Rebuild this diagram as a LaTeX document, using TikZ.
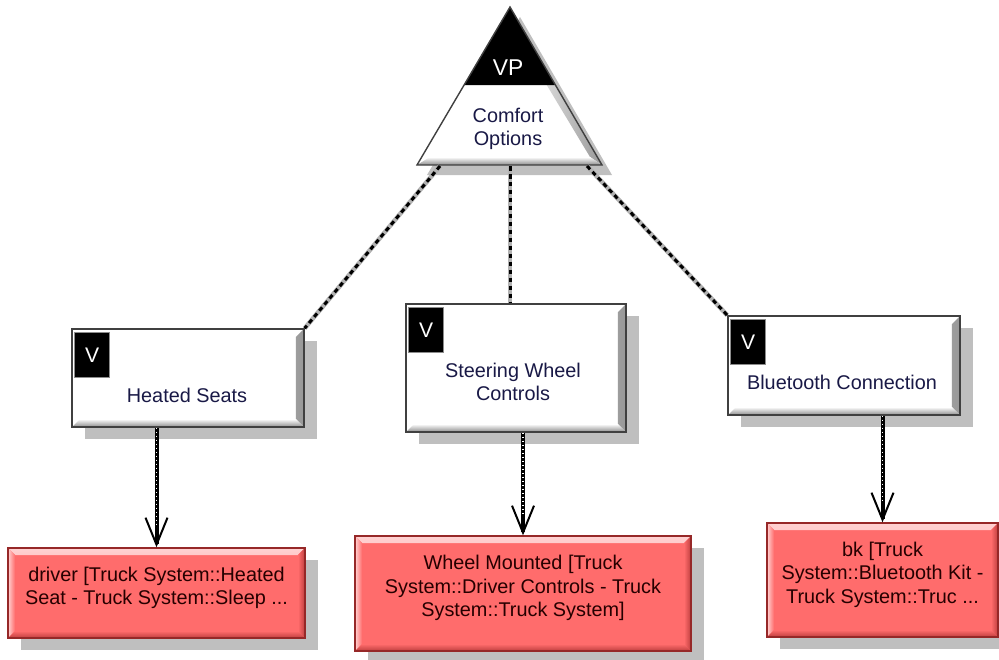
\documentclass[tikz,border=0pt]{standalone}
\usepackage{fontspec}
\setmainfont{Liberation Sans}
\usepackage{xcolor}
\usepackage{tikz}
\usetikzlibrary{arrows.meta,shadows,calc}

\definecolor{reqred}{RGB}{255,108,108}
\definecolor{reqedge}{RGB}{150,40,40}
\definecolor{reqdark}{RGB}{190,62,62}
\definecolor{reqlight}{RGB}{255,210,210}
\definecolor{vartext}{RGB}{25,25,70}

\begin{document}
\begin{tikzpicture}[
    x=0.02cm, y=-0.02cm,
    font=\fontsize{11.3}{13.3}\selectfont,
    box_shadow/.style={drop shadow={shadow xshift=0.26cm, shadow yshift=-0.24cm, fill=black!25, opacity=1}},
    var_box/.style={draw=black!75, line width=0.8pt, fill=white, inner sep=0pt, box_shadow,
        path picture={
          \shade[left color=white, right color=black!40]
            (path picture bounding box.north east) -- ++(-0.16cm,-0.16cm)
            -- ([shift={(-0.16cm,0.16cm)}]path picture bounding box.south east)
            -- (path picture bounding box.south east) -- cycle;
          \shade[top color=white, bottom color=black!45]
            (path picture bounding box.south west) -- ++(0.16cm,0.16cm)
            -- ([shift={(-0.16cm,0.16cm)}]path picture bounding box.south east)
            -- (path picture bounding box.south east) -- cycle;
        }},
    var_tag/.style={anchor=north west, fill=black, draw=black!45, minimum width=0.7cm, minimum height=0.9cm,
        inner sep=0pt, text=white, font=\fontsize{12}{14}\selectfont},
    var_text/.style={align=center, text=vartext},
    req_box/.style={draw=reqedge, line width=0.8pt, fill=reqred, align=center, inner sep=2pt, text=black!85!red,
        text depth=0.3cm, box_shadow,
        path picture={
          \shade[top color=reqlight, bottom color=reqred]
            (path picture bounding box.north west) -- (path picture bounding box.north east)
            -- ++(-0.14cm,-0.14cm) -- ([shift={(0.14cm,-0.14cm)}]path picture bounding box.north west) -- cycle;
          \shade[left color=reqlight, right color=reqred]
            (path picture bounding box.north west) -- ++(0.14cm,-0.14cm)
            -- ([shift={(0.14cm,0.14cm)}]path picture bounding box.south west)
            -- (path picture bounding box.south west) -- cycle;
          \shade[left color=reqred, right color=reqdark]
            (path picture bounding box.north east) -- ++(-0.14cm,-0.14cm)
            -- ([shift={(-0.14cm,0.14cm)}]path picture bounding box.south east)
            -- (path picture bounding box.south east) -- cycle;
          \shade[top color=reqred, bottom color=reqdark]
            (path picture bounding box.south west) -- ++(0.14cm,0.14cm)
            -- ([shift={(-0.14cm,0.14cm)}]path picture bounding box.south east)
            -- (path picture bounding box.south east) -- cycle;
        }},
    vp_link/.style={line width=0.06cm, dash pattern=on 0.09cm off 0.07cm,
        preaction={draw=black!30, line width=0.09cm, solid}},
    dep_arrow/.style={line width=0.08cm, -{Straight Barb[length=0.54cm, width=0.44cm, line width=0.04cm]},
        postaction={draw=white, -, line width=0.03cm, dash pattern=on 0.03cm off 0.05cm, shorten >=0.4cm}}
]
\useasboundingbox (0,0) rectangle (999,659);

% variation point triangle
\coordinate (vp_apex)  at (510,7);
\coordinate (vp_left)  at (417,165);
\coordinate (vp_right) at (602,165);
\fill[black!25] ([shift={(10,10)}]vp_apex) -- ([shift={(10,10)}]vp_left) -- ([shift={(10,10)}]vp_right) -- cycle;
\fill[white] (vp_apex) -- (vp_left) -- (vp_right) -- cycle;
\shade[left color=white, right color=black!40] (vp_apex) -- (vp_right) -- (590,157) -- (510,24) -- cycle;
\shade[top color=white, bottom color=black!45] (vp_left) -- (vp_right) -- (590,157) -- (430,157) -- cycle;
\fill[black] (vp_apex) -- ($(vp_apex)!0.494!(vp_left)$) -- ($(vp_apex)!0.494!(vp_right)$) -- cycle;
\draw[black!75, line width=0.8pt] (vp_apex) -- (vp_left) -- (vp_right) -- cycle;
\node[text=white, font=\fontsize{13}{15}\selectfont] (vp_tag) at (508,68) {VP};
\node[var_text] (vp) at (508,129) {Comfort\\Options};

% variants
\node[var_box, minimum width=4.64cm, minimum height=1.96cm] (seats) at (188,378) {};
\node[var_tag] (seats_tag) at ([shift={(3,4)}]seats.north west) {V};
\node[var_text] (seats_text) at (187,395) {Heated Seats};

\node[var_box, minimum width=4.4cm, minimum height=2.56cm] (steer) at (516,368) {};
\node[var_tag] (steer_tag) at ([shift={(3,4)}]steer.north west) {V};
\node[var_text] (steer_text) at (513,382) {Steering Wheel\\Controls};

\node[var_box, minimum width=4.64cm, minimum height=1.98cm] (blue) at (844,365.5) {};
\node[var_tag] (blue_tag) at ([shift={(3,4)}]blue.north west) {V};
\node[var_text] (blue_text) at (842,382) {Bluetooth Connection};

% realizing elements
\node[req_box, minimum width=5.94cm, minimum height=1.8cm] (driver) at (156.5,593)
    {driver [Truck System::Heated\\Seat - Truck System::Sleep ...};
\node[req_box, minimum width=6.72cm, minimum height=2.3cm] (wheel) at (523,593.5)
    {Wheel Mounted [Truck\\System::Driver Controls - Truck\\System::Truck System]};
\node[req_box, minimum width=4.62cm, minimum height=2.28cm] (bk) at (882.5,580)
    {bk [Truck\\System::Bluetooth Kit -\\Truck System::Truc ...};

% links
\coordinate (vp_l) at (440,166);
\coordinate (vp_m) at (510,166);
\coordinate (vp_r) at (587,166);
\draw[vp_link] (vp_l) -- (seats.north east);
\draw[vp_link] (vp_m) -- (vp_m |- steer.north);
\draw[vp_link] (vp_r) -- (blue.north west);

\draw[dep_arrow] (driver.north |- seats.south) -- (driver.north);
\draw[dep_arrow] (wheel.north |- steer.south) -- (wheel.north);
\draw[dep_arrow] (bk.north |- blue.south) -- (bk.north);

\end{tikzpicture}
\end{document}
